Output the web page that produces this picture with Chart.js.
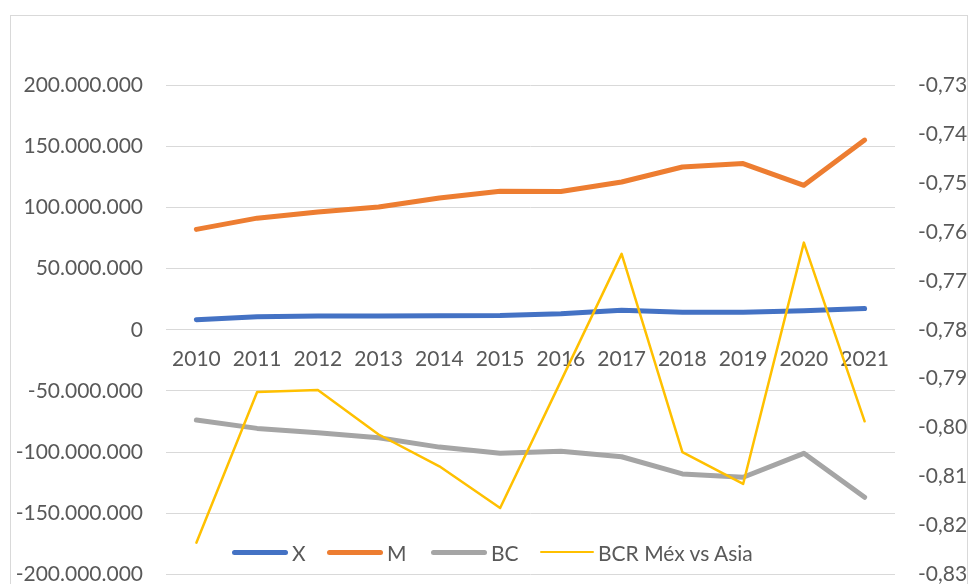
<!DOCTYPE html>
<html>
<head>
<meta charset="utf-8">
<script src="https://cdn.jsdelivr.net/npm/chart.js@4/dist/chart.umd.min.js"></script>
<style>
  html, body { margin: 0; padding: 0; background: #fff; overflow: hidden; }
  #wrap { position: relative; width: 971px; height: 584px; overflow: hidden; }
  #frame { position: absolute; left: 10px; top: 15px; width: 958px; height: 620px; border: 1px solid #d9d9d9; box-sizing: border-box; }
  canvas { position: absolute; left: 0; top: 0; }
  .lg { position: absolute; top: 540px; height: 24px; display: flex; align-items: center; font-family: Lato, sans-serif; font-size: 21px; color: #595959; white-space: nowrap; }
  .sw { display: inline-block; border-radius: 3px; margin-right: 4px; }
</style>
</head>
<body>
<div id="wrap">
  <div id="frame"></div>
  <canvas id="c" width="971" height="608"></canvas>
  <div id="legend"></div>
</div>
<script>
const years = ['2010','2011','2012','2013','2014','2015','2016','2017','2018','2019','2020','2021'];
const seriesX = [8200000, 10700000, 11200000, 11300000, 11500000, 11600000, 13000000, 16000000, 14300000, 14300000, 15600000, 17300000];
const seriesM = [82000000, 91200000, 96200000, 100300000, 107600000, 113100000, 113000000, 120700000, 133000000, 135800000, 118000000, 155000000];
const seriesBC = [-73800000, -80600000, -84200000, -88300000, -95900000, -101000000, -99200000, -103800000, -117800000, -120500000, -101000000, -136900000];
const seriesBCR = [-0.8235, -0.7927, -0.7923, -0.8014, -0.8079, -0.8164, -0.7905, -0.7645, -0.8050, -0.8115, -0.7622, -0.7987];
const seriesNames = ['X', 'M', 'BC', 'BCR Méx vs Asia'];
const seriesColors = ['#4472C4', '#ED7D31', '#A5A5A5', '#FFC000'];

function fmtLeft(v) {
  const s = Math.abs(Math.round(v)).toString().replace(/\B(?=(\d{3})+(?!\d))/g, '.');
  return (v < 0 ? '-' : '') + s;
}
function fmtRight(v) {
  return v.toFixed(2).replace('.', ',');
}

const fontX = { family: 'Lato', size: 21, lineHeight: 1.2 };
const fontY = { family: 'Lato', size: 21, lineHeight: 1.0 };

new Chart(document.getElementById('c'), {
  type: 'line',
  data: {
    labels: years,
    datasets: [
      { label: seriesNames[0], data: seriesX, yAxisID: 'y', borderColor: seriesColors[0], backgroundColor: seriesColors[0], borderWidth: 5, order: 2 },
      { label: seriesNames[1], data: seriesM, yAxisID: 'y', borderColor: seriesColors[1], backgroundColor: seriesColors[1], borderWidth: 5, order: 2 },
      { label: seriesNames[2], data: seriesBC, yAxisID: 'y', borderColor: seriesColors[2], backgroundColor: seriesColors[2], borderWidth: 5, order: 2 },
      { label: seriesNames[3], data: seriesBCR, yAxisID: 'y2', borderColor: seriesColors[3], backgroundColor: seriesColors[3], borderWidth: 2.5, order: 0 }
    ]
  },
  options: {
    responsive: false,
    animation: false,
    devicePixelRatio: 1,
    layout: { padding: { left: 0, right: 0, top: 85, bottom: 11 } },
    elements: {
      point: { radius: 0, hoverRadius: 0 },
      line: { tension: 0, borderCapStyle: 'round', borderJoinStyle: 'round', fill: false }
    },
    plugins: { legend: { display: false }, tooltip: { enabled: false } },
    scales: {
      x: {
        position: { y: 0 },
        offset: true,
        grid: { display: false, drawTicks: false },
        border: { display: false },
        ticks: { color: '#595959', font: fontX, padding: 17, maxRotation: 0, autoSkip: false },
        afterFit: (s) => { s.height = 0; }
      },
      y: {
        position: 'left',
        min: -200000000, max: 200000000,
        grid: { color: '#d9d9d9', lineWidth: 1, drawTicks: false },
        border: { display: false },
        ticks: { stepSize: 50000000, color: '#595959', font: fontY, padding: 23, callback: (v) => fmtLeft(v) },
        afterFit: (s) => { s.width = 166; }
      },
      y2: {
        position: 'right',
        min: -0.83, max: -0.73,
        grid: { display: false, drawTicks: false },
        border: { display: false },
        ticks: { stepSize: 0.01, color: '#595959', font: fontY, padding: 23, callback: (v) => fmtRight(v) },
        afterFit: (s) => { s.width = 76; }
      }
    }
  }
});

// HTML legend
const legendPos = [
  { left: 232, sw: 56, h: 5 },
  { left: 327, sw: 56, h: 5 },
  { left: 431, sw: 56, h: 5 },
  { left: 540, sw: 54, h: 2.5 }
];
const lg = document.getElementById('legend');
seriesNames.forEach((name, i) => {
  const d = document.createElement('div');
  d.className = 'lg';
  d.style.left = legendPos[i].left + 'px';
  const s = document.createElement('span');
  s.className = 'sw';
  s.style.width = legendPos[i].sw + 'px';
  s.style.height = legendPos[i].h + 'px';
  s.style.background = seriesColors[i];
  d.appendChild(s);
  const t = document.createElement('span');
  t.textContent = name;
  d.appendChild(t);
  lg.appendChild(d);
});
</script>
</body>
</html>
